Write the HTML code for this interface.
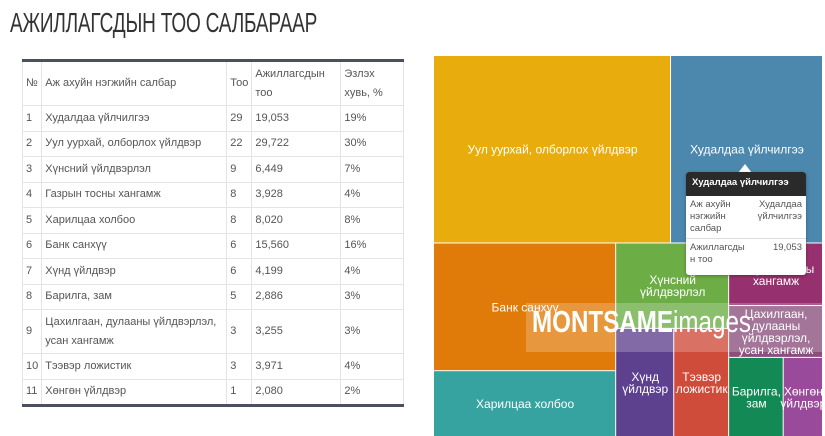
<!DOCTYPE html>
<html><head><meta charset="utf-8">
<style>
body{margin:0;width:825px;height:436px;background:#fff;overflow:hidden;position:relative;font-family:"Liberation Sans",sans-serif}
#title{position:absolute;left:10px;top:7px;font-family:"Liberation Sans Narrow","Liberation Sans",sans-serif;font-size:28px;color:#333;letter-spacing:-0.3px;transform:scaleX(0.68);transform-origin:left top;white-space:nowrap;font-weight:normal}
table{position:absolute;left:22px;top:59px;width:382px;border-collapse:collapse;font-size:11px;color:#555;border-top:3px solid #4a5060;border-bottom:3px solid #4a5060}
td{border:1px solid #e2e4ea;padding:0 3px;height:24.5px;vertical-align:middle;line-height:19px}
tr.h td{height:43px}
tr.t td{height:43px}
#tm{position:absolute;left:434px;top:56px}
.lbl{font-family:"Liberation Sans",sans-serif;fill:#fff;font-size:12px;text-anchor:middle}
#tip{position:absolute;left:686px;top:172px;width:120px;height:103px;background:#fff;border-radius:3px;box-shadow:0 1px 3px rgba(0,0,0,.3);font-size:9.5px;color:#555;overflow:hidden}
#tip .hd{background:#2a2a2a;color:#fff;font-weight:bold;padding:5px 6px;height:14px}
#tip .r{display:flex;justify-content:space-between;padding:3px 4px;line-height:12px}
#wm{position:absolute;left:526px;top:303px;width:296px;height:49px;background:rgba(255,255,255,.22)}
#wmt{position:absolute;left:532px;top:304px;font-size:31px;font-weight:bold;color:#fff;transform:scaleX(0.78);transform-origin:left top;white-space:nowrap}
</style></head><body>
<div id="title">АЖИЛЛАГСДЫН ТОО САЛБАРААР</div>
<table>
<tr class="h"><td style="width:12px">№</td><td style="width:178px">Аж ахуйн нэгжийн салбар</td><td style="width:18px">Тоо</td><td style="width:82px">Ажиллагсдын тоо</td><td>Эзлэх хувь, %</td></tr>
<tr><td>1</td><td>Худалдаа үйлчилгээ</td><td>29</td><td>19,053</td><td>19%</td></tr>
<tr><td>2</td><td>Уул уурхай, олборлох үйлдвэр</td><td>22</td><td>29,722</td><td>30%</td></tr>
<tr><td>3</td><td>Хүнсний үйлдвэрлэл</td><td>9</td><td>6,449</td><td>7%</td></tr>
<tr><td>4</td><td>Газрын тосны хангамж</td><td>8</td><td>3,928</td><td>4%</td></tr>
<tr><td>5</td><td>Харилцаа холбоо</td><td>8</td><td>8,020</td><td>8%</td></tr>
<tr><td>6</td><td>Банк санхүү</td><td>6</td><td>15,560</td><td>16%</td></tr>
<tr><td>7</td><td>Хүнд үйлдвэр</td><td>6</td><td>4,199</td><td>4%</td></tr>
<tr><td>8</td><td>Барилга, зам</td><td>5</td><td>2,886</td><td>3%</td></tr>
<tr class="t"><td>9</td><td>Цахилгаан, дулааны үйлдвэрлэл,<br>усан хангамж</td><td>3</td><td>3,255</td><td>3%</td></tr>
<tr><td>10</td><td>Тээвэр ложистик</td><td>3</td><td>3,971</td><td>4%</td></tr>
<tr><td>11</td><td>Хөнгөн үйлдвэр</td><td>1</td><td>2,080</td><td>2%</td></tr>
</table>
<svg id="tm" width="388" height="380"></svg>
<div id="wm"></div>
<div id="wmt">MONTSAME<span style="font-weight:normal">images</span></div>
<svg style="position:absolute;left:738px;top:164px" width="14" height="9"><polygon points="0,9 7,0 14,9" fill="#fff"/></svg>
<div id="tip">
<div class="hd">Худалдаа үйлчилгээ</div>
<div class="r" style="border-bottom:1px solid #ddd"><span>Аж ахуйн<br>нэгжийн<br>салбар</span><span style="text-align:right">Худалдаа<br>үйлчилгээ</span></div>
<div class="r"><span>Ажиллагсды<br>н тоо</span><span>19,053</span></div>
</div>
<script>
const categories=["Худалдаа үйлчилгээ","Уул уурхай, олборлох үйлдвэр","Хүнсний үйлдвэрлэл","Газрын тосны хангамж","Харилцаа холбоо","Банк санхүү","Хүнд үйлдвэр","Барилга, зам","Цахилгаан, дулааны үйлдвэрлэл, усан хангамж","Тээвэр ложистик","Хөнгөн үйлдвэр"];
const employees=[19053,29722,6449,3928,8020,15560,4199,2886,3255,3971,2080];
const colors=["#4c87ad","#e8ac0c","#6cae45","#97306f","#36a3a0","#e07b0a","#5e418e","#138a55","#8a4f7d","#cf4b3a","#9a4a9a"];
const labels=[["Худалдаа үйлчилгээ"],["Уул уурхай, олборлох үйлдвэр"],["Хүнсний","үйлдвэрлэл"],["Газрын тосны","хангамж"],["Харилцаа холбоо"],["Банк санхүү"],["Хүнд","үйлдвэр"],["Барилга,","зам"],["Цахилгаан,","дулааны","үйлдвэрлэл,","усан хангамж"],["Тээвэр","ложистик"],["Хөнгөн","үйлдвэр"]];
const tree={d:"v",c:[{d:"h",c:[1,0]},{d:"h",c:[{d:"v",c:[5,4]},{d:"v",c:[2,{d:"h",c:[6,9]}]},{d:"v",c:[3,8,{d:"h",c:[7,10]}]}]}]};
const svg=document.getElementById('tm');const NS="http://www.w3.org/2000/svg";
function sum(n){return typeof n==="number"?employees[n]:n.c.reduce((a,b)=>a+sum(b),0);}
function layout(n,x,y,w,h){
 if(typeof n==="number"){draw(n,x,y,w,h);return;}
 const t=sum(n);let o=0;
 n.c.forEach(ch=>{const f=sum(ch)/t;
  if(n.d==="h"){layout(ch,x+o,y,w*f,h);o+=w*f;}else{layout(ch,x,y+o,w,h*f);o+=h*f;}});
}
function draw(i,x,y,w,h){
 const r=document.createElementNS(NS,"rect");
 
 
 r.setAttribute("x",x);r.setAttribute("y",y);r.setAttribute("width",Math.max(0,w-1));r.setAttribute("height",Math.max(0,h-1));r.setAttribute("fill",colors[i]);svg.appendChild(r);
 const ls=labels[i];const lh=12;const y0=y+h/2-(ls.length-1)*lh/2+4;
 ls.forEach((s,k)=>{const t=document.createElementNS(NS,"text");
  
  
  t.setAttribute("class","lbl");t.setAttribute("x",x+w/2);t.setAttribute("y",y0+k*lh);t.textContent=s;svg.appendChild(t);});
}
layout(tree,0,0,389,381);
</script>
</body></html>
